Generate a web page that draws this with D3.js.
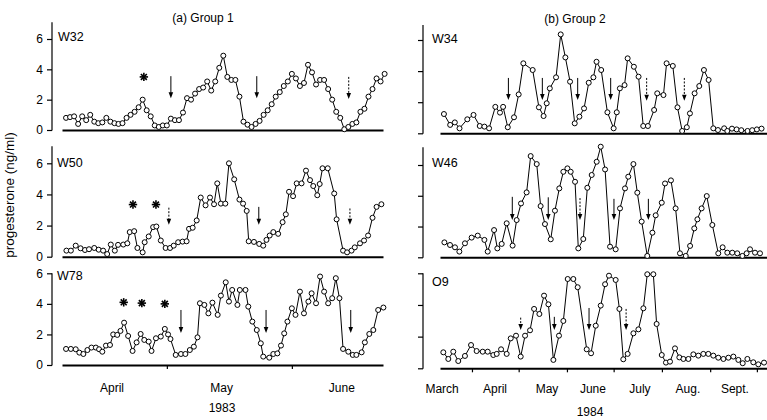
<!DOCTYPE html>
<html><head><meta charset="utf-8">
<script src="https://cdn.jsdelivr.net/npm/d3@7"></script>
<style>
body{margin:0;background:#fff;}
svg text{font-family:"Liberation Sans",Arial,Helvetica,sans-serif;fill:#000;}
</style></head>
<body><svg id="c" width="767" height="420"></svg>
<script>
// ---------- DATA ----------
// Group 1 (1983): day offsets from 1 April 1983
const w32Days = [5,6,7,8,9,10,11,12,13,14,15,16,17,18,19,20,21,22,23,24,25,26,27,28,29,30,31,32,33,34,35,36,37,38,39,40,41,42,43,44,45,46,47,48,49,50,51,52,53,54,55,56,57,58,59,60,61,62,63,64,65,66,67,68,69,70,71,72,73,74,75,76,77,78,79,80,81,82,83,84];
const w32Vals = [0.8,0.85,0.9,0.4,0.9,0.65,1.0,0.55,0.45,0.5,0.8,0.55,0.45,0.4,0.45,0.8,1.0,1.2,1.5,2.0,1.3,0.9,0.3,0.2,0.3,0.3,0.75,0.65,0.65,1.15,2.1,2.0,2.4,2.7,2.8,3.2,2.6,3.2,4.1,4.9,3.5,3.3,3.3,2.2,0.55,0.35,0.2,0.4,0.6,1.0,1.3,1.7,2.2,2.5,2.9,3.2,3.7,3.4,2.9,3.1,4.3,3.8,3.0,3.3,3.3,2.7,2.0,1.2,0.8,0.05,0.2,0.4,0.5,1.2,1.4,2.2,2.7,3.4,3.2,3.7];
const w50Days = [5.1,6.2,7.4,8.6,9.7,10.7,12.0,13.1,14.2,15.2,16.1,17.1,17.9,19.2,20.2,20.8,21.9,22.7,24.0,24.5,25.5,26.6,27.4,28.5,29.7,30.8,31.7,32.8,33.9,34.9,35.5,36.4,37.4,38.4,39.6,40.7,41.7,42.5,43.4,44.5,45.4,46.7,48.0,48.9,49.8,50.3,51.6,52.9,53.9,54.7,55.5,56.4,57.6,58.7,59.5,60.3,61.3,62.2,63.4,64.5,65.5,66.3,67.3,67.9,68.6,69.9,71.5,72.1,73.7,74.7,75.8,76.6,77.9,78.9,79.9,81.0,82.0,83.2];
const w50Vals = [0.39,0.39,0.71,0.54,0.43,0.48,0.56,0.45,0.39,0.17,0.78,0.39,0.76,0.78,0.86,1.58,1.64,0.56,0.28,0.93,1.3,1.9,1.94,1.04,0.56,0.56,0.71,0.93,0.97,0.99,1.79,1.86,2.33,3.8,3.3,3.8,3.37,4.71,3.41,3.41,6.0,4.97,3.67,3.41,2.94,0.99,0.95,0.82,0.71,1.08,1.36,1.58,1.47,2.22,2.72,4.17,3.89,4.71,4.71,5.53,4.92,4.54,3.95,4.67,5.68,5.68,4.06,2.4,0.39,0.28,0.39,0.6,0.86,1.04,1.36,2.5,3.2,3.37];
const w78Days = [5.0,6.2,7.4,8.3,9.3,10.3,11.3,12.4,13.2,14.0,14.9,15.9,16.7,17.7,18.5,19.4,20.4,21.5,22.5,23.5,24.4,25.5,26.2,27.3,28.5,29.5,30.3,30.9,32.2,33.5,34.6,35.7,36.7,37.6,38.2,39.3,40.3,41.3,42.6,43.4,44.6,45.4,46.2,47.5,48.1,49.5,50.2,51.2,52.3,53.3,53.9,55.4,56.4,57.4,58.3,59.1,59.9,61.0,61.9,63.0,64.0,65.1,65.9,67.0,68.0,69.0,70.0,71.0,71.9,72.8,73.7,75.0,76.1,77.0,78.3,79.1,80.2,81.2,82.4,83.7];
const w78Vals = [1.05,1.05,1.03,0.81,0.72,0.98,1.14,1.14,1.03,0.87,1.27,1.31,2.0,1.97,2.23,2.77,1.9,0.92,1.48,2.03,1.64,1.53,0.92,1.75,1.86,2.36,2.0,1.7,0.66,0.72,0.72,0.98,1.2,1.81,4.04,3.93,3.38,4.08,3.28,4.54,5.41,4.15,4.91,3.93,4.91,4.91,3.82,2.84,2.29,1.42,0.55,0.48,0.72,0.76,1.27,2.07,2.84,3.71,3.28,4.8,3.38,4.15,4.69,4.04,5.79,4.8,4.04,4.37,5.68,4.37,1.05,0.87,0.66,0.66,0.83,1.48,2.03,2.29,3.6,3.76];

// Group 2 (1984): day offsets from 1 March 1984
const w34Days = [13,17,20,23,28,32,36,39,42,46,49,51,54,58,61,64,70,74,77,79,81,85,88,91,94,97,100,103,106,109,111,114,118,122,124,126,129,131,135,138,141,144,148,150,154,156,160,163,166,169,171,174,177,180,183,186,189,193,195,198,201,204,208,211,214,217];
const w34Vals = [1.24,0.54,0.7,0.32,0.9,1.18,0.47,0.43,0.32,1.7,1.33,1.7,0.39,1.03,2.5,4.5,4.07,1.67,1.11,1.93,2.89,3.6,6.36,4.88,3.32,0.64,1.07,1.6,3.25,3.6,4.6,4.07,1.35,0.32,1.35,2.89,3.1,4.82,4.28,3.64,0.47,0.47,1.5,2.57,2.46,4.5,4.33,1.67,0.15,0.39,1.28,2.57,3.04,4.07,3.43,0.32,0.21,0.32,0.15,0.3,0.25,0.2,0.15,0.2,0.25,0.3];
const w46Days = [13.3,16.9,20.1,22.9,26.5,30.8,34.7,39.0,41.1,45.2,47.3,50.1,53.3,57.1,59.7,62.5,66.1,68.7,72.6,75.1,77.9,81.6,84.3,87.1,89.7,92.3,94.4,97.2,99.3,102.5,105.1,107.9,111.1,113.7,116.5,119.7,123.3,126.1,129.3,131.4,134.7,137.2,140.0,143.6,146.9,149.0,152.9,155.0,158.8,161.8,164.6,168.3,171.1,173.8,175.8,178.5,181.8,185.4,189.2,192.0,195.0,198.2,201.4,204.7,207.4,209.6,212.8,216.0];
const w46Vals = [0.97,0.8,0.65,0.37,0.91,1.28,1.41,1.13,0.37,1.77,0.58,0.87,2.21,0.76,2.42,3.5,4.22,6.58,6.06,3.33,2.16,1.17,3.03,4.48,5.56,5.78,5.56,4.91,0.58,1.19,4.52,5.35,6.21,7.19,5.71,0.69,0.52,3.18,4.48,5.24,6.06,4.2,2.32,0.09,1.6,2.73,3.55,4.8,5.0,3.18,0.26,0.09,0.74,1.88,2.47,3.18,3.98,2.1,0.26,0.65,0.3,0.3,0.26,0.09,0.26,0.52,0.3,0.26];
const o9Days = [12.6,15.8,19.0,22.2,26.5,30.4,34.0,37.9,41.1,44.7,46.9,49.7,53.3,55.9,59.3,62.3,65.1,68.3,70.9,74.3,77.3,80.1,83.3,86.9,89.7,92.5,96.1,98.9,104.7,107.5,110.5,113.7,116.5,119.0,123.3,125.7,128.2,131.0,134.7,137.9,141.1,143.6,147.5,149.6,152.9,155.6,158.2,161.4,164.2,166.8,170.0,173.2,176.4,179.6,182.8,186.0,189.2,192.5,195.7,198.9,202.1,204.9,207.9,211.7,214.9,218.6];
const o9Vals = [1.01,0.59,1.05,0.46,0.78,1.47,1.09,1.05,1.05,0.84,0.91,1.2,0.91,1.89,2.06,0.74,2.06,2.4,3.75,3.43,4.59,4.04,0.53,2.06,2.99,5.64,5.64,5.12,1.2,0.95,2.69,3.96,5.31,5.85,5.58,3.75,0.57,0.91,2.21,2.46,3.79,5.94,5.94,2.8,0.84,0.36,0.42,1.26,0.69,0.59,0.59,0.88,0.8,0.91,0.91,0.8,0.67,0.59,0.67,0.74,0.53,0.32,0.59,0.38,0.25,0.36];

// annotations: arrows [day, topValue, bottomValue, dashed], asterisks [day, value]
const w32Arrows = [[31.0,3.55,2.1,0],[52.3,3.55,2.1,0],[75.1,3.5,2.05,1]];
const w50Arrows = [[30.5,3.15,2.05,1],[52.8,3.2,2.05,0],[75.4,3.1,2.05,1]];
const w78Arrows = [[33.5,3.6,2.1,0],[54.6,3.6,2.1,0],[75.6,3.6,2.1,0]];
const w34Arrows = [[54.4,3.56,2.14,0],[76.2,3.56,2.14,0],[98.9,3.56,2.14,0],[120.1,3.56,2.14,0],[143.2,3.56,2.1,1],[167.4,3.56,2.1,1]];
const w46Arrows = [[56.9,3.93,2.42,0],[80.0,3.9,2.42,0],[100.4,3.85,2.42,1],[122.2,3.8,2.42,0],[144.3,3.8,2.42,0]];
const o9Arrows = [[62.3,3.2,2.42,1],[83.9,3.25,2.42,0],[106.2,3.81,2.42,0],[130.0,3.75,2.42,1]];
const w32Stars = [[24.3,3.5]];
const w50Stars = [[21.6,3.35],[27.3,3.35]];
const w78Stars = [[19.3,4.1],[23.8,4.05],[29.5,4.0]];

const yTicks = [0,2,4,6];
const monthsLeft = ["April","May","June"];
const monthsLeftDays = [16.4,43.6,73.4];
const monthTicksLeftDays = [30,61];
const monthsRight = ["March","April","May","June","July","Aug.","Sept."];
const monthsRightDays = [11.8,45.8,79.2,108.7,138.9,169.7,199.9];
const monthTicksRightDays = [31,61,92,122,153,184,214];

// ---------- DRAW ----------
const svg = d3.select("#c");
const base83 = new Date(1983,3,1), base84 = new Date(1984,2,1);
const toDate = (b,d) => new Date(b.getTime() + d*864e5);
const xL = d3.scaleTime().domain([toDate(base83,4), toDate(base83,83.6)]).range([62,383]);
const xR = d3.scaleTime().domain([toDate(base84,10.47), toDate(base84,220.5)]).range([440,767]);

const panels = [
 {name:"W32", days:w32Days, vals:w32Vals, x:xL, base:base83, y0:130, y6:39, axisX:52, axisTop:7.1, labels:true, arrows:w32Arrows, stars:w32Stars, lx:58, ly:41},
 {name:"W50", days:w50Days, vals:w50Vals, x:xL, base:base83, y0:256.7, y6:163.3, axisX:52, axisTop:7.1, labels:true, arrows:w50Arrows, stars:w50Stars, lx:57, ly:167},
 {name:"W78", days:w78Days, vals:w78Vals, x:xL, base:base83, y0:365, y6:273.3, axisX:52, axisTop:6, labels:true, arrows:w78Arrows, stars:w78Stars, lx:57, ly:280, bottom:monthTicksLeftDays},
 {name:"W34", days:w34Days, vals:w34Vals, x:xR, base:base84, y0:133.3, y6:40, axisX:423, axisTop:6.96, labels:false, arrows:w34Arrows, stars:[], lx:432, ly:43},
 {name:"W46", days:w46Days, vals:w46Vals, x:xR, base:base84, y0:257.3, y6:165, axisX:423, axisTop:7.16, labels:false, arrows:w46Arrows, stars:[], lx:432, ly:167},
 {name:"O9", days:o9Days, vals:o9Vals, x:xR, base:base84, y0:368.3, y6:273.3, axisX:423, axisTop:6, labels:false, arrows:o9Arrows, stars:[], lx:432, ly:286, bottom:monthTicksRightDays}
];

panels.forEach(p => {
  const y = d3.scaleLinear().domain([0,6]).range([p.y0,p.y6]);
  const g = svg.append("g");
  // y axis
  const ya = g.append("g").attr("transform",`translate(${p.axisX},0)`)
    .call(d3.axisLeft(y).tickValues(yTicks).tickSize(5).tickSizeOuter(0).tickFormat(p.labels?d3.format("d"):""));
  ya.select(".domain").remove();
  ya.selectAll(".tick line").attr("stroke","#000").attr("stroke-width",1.2);
  ya.selectAll(".tick text").attr("font-size",12).attr("font-family","Liberation Sans, Arial, sans-serif").attr("dx","-1");
  g.append("line").attr("x1",p.axisX).attr("x2",p.axisX).attr("y1",y(0)+0.5).attr("y2",y(p.axisTop))
    .attr("stroke","#000").attr("stroke-width",1.2);
  // x baseline
  const xa = g.append("g").attr("transform",`translate(0,${p.y0})`)
    .call(d3.axisBottom(p.x).tickValues((p.bottom||[]).map(d=>toDate(p.base,d))).tickSize(4).tickSizeOuter(0).tickFormat(""));
  xa.select(".domain").attr("stroke","#000").attr("stroke-width",2);
  xa.selectAll(".tick line").attr("stroke","#000").attr("stroke-width",1.2);
  // line + points
  const pts = p.days.map((d,i)=>({x:p.x(toDate(p.base,d)), y:y(p.vals[i])}));
  g.append("path").datum(pts).attr("d",d3.line().x(d=>d.x).y(d=>d.y))
    .attr("fill","none").attr("stroke","#000").attr("stroke-width",1);
  g.selectAll("circle").data(pts).join("circle").attr("cx",d=>d.x).attr("cy",d=>d.y).attr("r",2.5)
    .attr("fill","#fff").attr("stroke","#000").attr("stroke-width",1);
  // label
  g.append("text").attr("x",p.lx).attr("y",p.ly).attr("font-size",12.5).text(p.name);
  // arrows
  p.arrows.forEach(a=>{
    const ax = p.x(toDate(p.base,a[0])), yt=y(a[1]), yb=y(a[2]);
    g.append("line").attr("x1",ax).attr("x2",ax).attr("y1",yt).attr("y2",yb-4)
      .attr("stroke","#000").attr("stroke-width",1).attr("stroke-dasharray",a[3]?"2,1.5":null);
    g.append("path").attr("d",`M${ax-2.3},${yb-6}L${ax+2.3},${yb-6}L${ax},${yb}Z`).attr("fill","#000");
  });
  // asterisks
  p.stars.forEach(s=>{
    const sx = p.x(toDate(p.base,s[0])), sy=y(s[1]);
    [0,45,90,135].forEach(ang=>{
      const r=4.2, t=ang*Math.PI/180;
      g.append("line").attr("x1",sx-r*Math.cos(t)).attr("y1",sy-r*Math.sin(t))
        .attr("x2",sx+r*Math.cos(t)).attr("y2",sy+r*Math.sin(t)).attr("stroke","#000").attr("stroke-width",1.6);
    });
  });
});

// month labels
monthsLeft.forEach((m,i)=>svg.append("text").attr("x",xL(toDate(base83,monthsLeftDays[i]))).attr("y",392)
  .attr("text-anchor","middle").attr("font-size",12).text(m));
monthsRight.forEach((m,i)=>svg.append("text").attr("x",xR(toDate(base84,monthsRightDays[i]))).attr("y",393)
  .attr("text-anchor","middle").attr("font-size",12).text(m));
svg.append("text").attr("x",222).attr("y",412).attr("text-anchor","middle").attr("font-size",12).text("1983");
svg.append("text").attr("x",590).attr("y",416).attr("text-anchor","middle").attr("font-size",12).text("1984");
// titles
svg.append("text").attr("x",203).attr("y",22).attr("text-anchor","middle").attr("font-size",12).text("(a) Group 1");
svg.append("text").attr("x",575).attr("y",23).attr("text-anchor","middle").attr("font-size",12).text("(b) Group 2");
// y label
svg.append("text").attr("transform","translate(14,195) rotate(-90)").attr("text-anchor","middle")
  .attr("font-size",13.5).text("progesterone (ng/ml)");
</script></body></html>
